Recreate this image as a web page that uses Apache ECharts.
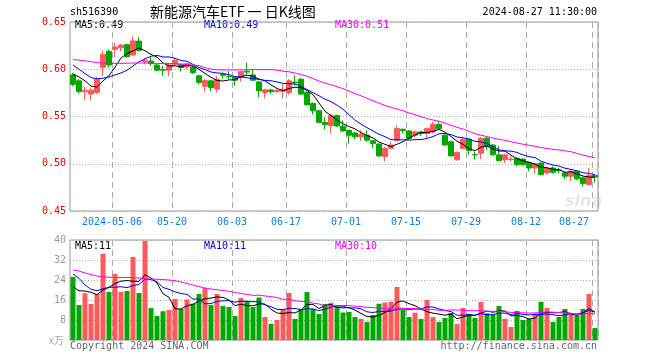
<!DOCTYPE html>
<html><head><meta charset="utf-8">
<script src="https://cdn.jsdelivr.net/npm/echarts@6/dist/echarts.min.js"></script>
<style>html,body{margin:0;padding:0;background:#fff}#c{width:660px;height:360px}</style>
</head><body><div id="c"></div>
<script>
const dates = [
'2024-04-22','2024-04-23','2024-04-24','2024-04-25','2024-04-26','2024-04-29','2024-04-30',
'2024-05-06','2024-05-07','2024-05-08','2024-05-09','2024-05-10',
'2024-05-13','2024-05-14','2024-05-15','2024-05-16','2024-05-17',
'2024-05-20','2024-05-21','2024-05-22','2024-05-23','2024-05-24',
'2024-05-27','2024-05-28','2024-05-29','2024-05-30','2024-05-31',
'2024-06-03','2024-06-04','2024-06-05','2024-06-06','2024-06-07',
'2024-06-11','2024-06-12','2024-06-13','2024-06-14',
'2024-06-17','2024-06-18','2024-06-19','2024-06-20','2024-06-21',
'2024-06-24','2024-06-25','2024-06-26','2024-06-27','2024-06-28',
'2024-07-01','2024-07-02','2024-07-03','2024-07-04','2024-07-05',
'2024-07-08','2024-07-09','2024-07-10','2024-07-11','2024-07-12',
'2024-07-15','2024-07-16','2024-07-17','2024-07-18','2024-07-19',
'2024-07-22','2024-07-23','2024-07-24','2024-07-25','2024-07-26',
'2024-07-29','2024-07-30','2024-07-31','2024-08-01','2024-08-02',
'2024-08-05','2024-08-06','2024-08-07','2024-08-08','2024-08-09',
'2024-08-12','2024-08-13','2024-08-14','2024-08-15','2024-08-16',
'2024-08-19','2024-08-20','2024-08-21','2024-08-22','2024-08-23',
'2024-08-26','2024-08-27'];

const openP = [0.594,0.5877,0.5761,0.5737,0.5754,0.602,0.619,0.621,0.6227,0.626,
0.615,0.6298,0.608,0.6087,0.6045,0.5995,0.599,0.6053,0.6053,0.6024,
0.6024,0.593,0.582,0.5877,0.579,0.5945,0.5925,0.5919,0.5919,0.598,
0.594,0.5866,0.5754,0.578,0.5765,0.5765,0.5754,0.5864,0.5895,0.5754,
0.5638,0.5561,0.5438,0.5403,0.5509,0.5396,0.5354,0.5326,0.5285,0.5302,
0.5243,0.5208,0.5076,0.5163,0.525,0.5365,0.5347,0.5302,0.5337,0.532,
0.5337,0.5417,0.5302,0.5233,0.5042,0.5163,0.526,0.5098,0.511,0.527,
0.5198,0.5094,0.5042,0.5045,0.5059,0.5049,0.5014,0.4955,0.5007,0.4903,
0.4955,0.4935,0.4903,0.4868,0.492,0.4851,0.4781,0.4875];
const closeP = [0.584,0.5765,0.5779,0.5779,0.5895,0.616,0.6045,0.6235,0.6256,0.6135,
0.630,0.620,0.609,0.606,0.599,0.599,0.6045,0.6095,0.6017,0.6059,
0.5965,0.586,0.588,0.5807,0.5895,0.5935,0.592,0.5884,0.5975,0.597,
0.5884,0.5772,0.5782,0.5765,0.5775,0.578,0.5877,0.5856,0.5737,0.5625,
0.5561,0.5438,0.5414,0.5509,0.540,0.5347,0.5302,0.5285,0.5313,0.525,
0.5215,0.5083,0.5163,0.5198,0.5372,0.535,0.5268,0.5337,0.532,0.5372,
0.5417,0.5372,0.5198,0.5083,0.5118,0.5257,0.514,0.5094,0.527,0.518,
0.5094,0.5035,0.5094,0.5049,0.499,0.499,0.4955,0.500,0.4885,0.4955,
0.491,0.4928,0.4868,0.492,0.484,0.4792,0.4875,0.486];
const lowP = [0.582,0.5744,0.5674,0.5674,0.5737,0.593,0.6014,0.613,0.619,0.612,
0.615,0.6193,0.6053,0.6035,0.598,0.593,0.593,0.603,0.5975,0.600,
0.595,0.584,0.5765,0.5765,0.5755,0.590,0.5895,0.5825,0.587,0.594,
0.5877,0.570,0.5695,0.5737,0.5754,0.5695,0.573,0.5825,0.573,0.5615,
0.552,0.5428,0.5361,0.5322,0.539,0.5337,0.5215,0.5257,0.5243,0.5233,
0.5163,0.5076,0.5025,0.5153,0.5243,0.532,0.5257,0.5278,0.5292,0.5268,
0.532,0.5361,0.5188,0.5076,0.5035,0.5153,0.5094,0.5045,0.505,0.5146,
0.5083,0.5024,0.5007,0.5024,0.4972,0.4979,0.492,0.4896,0.4875,0.4885,
0.4896,0.4896,0.484,0.4816,0.4826,0.4757,0.4771,0.480];
const highP = [0.596,0.5895,0.5814,0.5807,0.5919,0.620,0.621,0.628,0.6262,0.627,
0.635,0.634,0.6116,0.613,0.6056,0.6035,0.6056,0.6116,0.6053,0.607,
0.6035,0.594,0.5895,0.5884,0.593,0.5965,0.598,0.5925,0.598,0.607,
0.600,0.5877,0.5793,0.5793,0.579,0.5842,0.5895,0.594,0.5905,0.5765,
0.5649,0.557,0.549,0.5527,0.552,0.5458,0.5361,0.5337,0.5354,0.5354,
0.525,0.5215,0.518,0.5233,0.5406,0.5372,0.5354,0.5354,0.5347,0.5382,
0.5441,0.5451,0.5313,0.5243,0.5129,0.5285,0.5267,0.513,0.528,0.5285,
0.5208,0.5187,0.5104,0.5083,0.5069,0.5059,0.5024,0.5007,0.5014,0.4972,
0.4972,0.4955,0.492,0.4938,0.493,0.4861,0.4955,0.4885];

const volume = [25.2,14,18.7,14.4,18.4,34.5,19.2,26.4,19.2,19.6,
33.2,18.8,39.6,12.8,9.6,11.5,12,16.4,12.4,16.2,
14.5,18.4,20.8,14,18.4,13.6,13.2,9.6,16.8,15.6,
13.2,17,9.2,6.5,8,12.4,18.8,8.4,12.4,19.2,
12.4,10.4,14.4,14.9,13.4,11,11.2,9.2,8.4,7.2,
10,14.5,15,15.3,21.2,12.1,9.2,10.9,8.4,16,
9.2,7.2,8.8,10.8,6.4,12.8,10.5,8.8,15.2,10.7,
10.2,13.6,8.5,5.2,11.6,8,8.5,10.6,15.2,12.8,
7.2,9.2,12.4,10.4,9.6,12.4,18.4,4.8];

// leading moving-average values (window not yet full)
const ma5Head = [0.5947,0.5919,0.5877,0.5821];
const ma10Head = [0.6045,0.600,0.5954,0.5912,0.5898,0.5905,0.5919,0.594,0.5961];
const ma30Head = [0.6102,0.6096,0.609,0.608,0.607,0.6066,0.6062,0.6062,0.6062,0.6064,
0.6066,0.6066,0.6066,0.6064,0.6062,0.6061,0.606,0.6058,0.6055,0.605,
0.6045,0.6038,0.6017,0.600,0.5995,0.5993,0.5993,0.5993,0.5993];
const volMa5Head = [21.3,19.7,19.6,19.1];
const volMa10Head = [26.4,24.7,22,20.3,19.7,20.5,21.1,21.1,21.3];
const volMa30Head = [28,27.6,26.8,26.2,25.6,25.3,25.1,25,25,25,
25,24.8,24.5,24.4,24.3,24.2,24,23.7,23.2,22.6,
22,21.4,20.8,20.4,20.1,19.8,19.5,19.0,18.6];

const tickDates = ['2024-05-06','2024-05-20','2024-06-03','2024-06-17','2024-07-01','2024-07-15','2024-07-29','2024-08-12','2024-08-27'];
const priceTicks = {min:0.45, max:0.65, step:0.05};
const volTicks = {min:0, max:40, step:8};

const titleText = '新能源汽车ETF 一 日K线图';
const codeText = 'sh516390';
const timeText = '2024-08-27 11:30:00';
const priceLegend = ['MA5:0.49','MA10:0.49','MA30:0.51'];
const volLegend = ['MA5:11','MA10:11','MA30:10'];

const UP = '#ff5a5a', DOWN = '#00a800';
const MONO = '"DejaVu Sans Mono", "Liberation Mono", monospace';

function movingAvg(src, n, head) {
  return src.map((v, i) => {
    if (i < n - 1) return head[i];
    let s = 0;
    for (let k = i - n + 1; k <= i; k++) s += src[k];
    return s / n;
  });
}

const kData = dates.map((d, i) => [openP[i], closeP[i], lowP[i], highP[i]]);
const volData = volume.map((v, i) => ({value: v, itemStyle: {color: closeP[i] > openP[i] ? UP : DOWN}}));

const isTick = (idx, val) => tickDates.indexOf(val) >= 0;
const splitX = {show: true, interval: isTick, lineStyle: {color: '#aaa', type: [6, 4], width: 1}};
const splitY = {show: true, lineStyle: {color: '#aaa', type: [1, 2], width: 1}};

const lineS = (name, data, color, xi, yi) => ({
  name, type: 'line', data, xAxisIndex: xi, yAxisIndex: yi, symbol: 'none',
  lineStyle: {color, width: 1}, itemStyle: {color}, silent: true, z: 5
});

const chart = echarts.init(document.getElementById('c'), null, {renderer: 'canvas'});
chart.setOption({
  animation: false,
  backgroundColor: '#fff',
  grid: [
    {left: 70, top: 22, width: 528, height: 189, show: true, borderColor: '#999', borderWidth: 1, backgroundColor: 'transparent'},
    {left: 70, top: 240, width: 528, height: 100, show: true, borderColor: '#999', borderWidth: 1, backgroundColor: 'transparent'}
  ],
  xAxis: [
    {type: 'category', gridIndex: 0, data: dates, boundaryGap: true,
      axisLine: {show: false}, axisTick: {show: false}, splitLine: splitX,
      axisLabel: {interval: isTick, color: '#0a80d8', fontFamily: MONO, fontSize: 10, margin: 6,
        padding: [0, 6, 0, 0], alignMaxLabel: 'right',
        formatter: v => v === tickDates[0] ? v : v.slice(5)}},
    {type: 'category', gridIndex: 1, data: dates, boundaryGap: true,
      axisLine: {show: false}, axisTick: {show: false}, splitLine: splitX,
      axisLabel: {show: false}}
  ],
  yAxis: [
    {type: 'value', gridIndex: 0, min: priceTicks.min, max: priceTicks.max, interval: priceTicks.step,
      axisLine: {show: false}, axisTick: {show: false}, splitLine: splitY,
      axisLabel: {color: '#e00000', fontFamily: MONO, fontSize: 10, margin: 4,
        formatter: v => v.toFixed(2)}},
    {type: 'value', gridIndex: 1, min: volTicks.min, max: volTicks.max, interval: volTicks.step,
      axisLine: {show: false}, axisTick: {show: false}, splitLine: splitY,
      axisLabel: {color: '#999', fontFamily: MONO, fontSize: 10, margin: 4,
        formatter: v => v === 0 ? '' : String(v)}}
  ],
  series: [
    {type: 'candlestick', data: kData, xAxisIndex: 0, yAxisIndex: 0, barWidth: 5,
      itemStyle: {color: UP, color0: DOWN, borderColor: UP, borderColor0: DOWN, borderWidth: 1}, z: 3},
    lineS('MA5', movingAvg(closeP, 5, ma5Head), '#000000', 0, 0),
    lineS('MA10', movingAvg(closeP, 10, ma10Head), '#0000ff', 0, 0),
    lineS('MA30', movingAvg(closeP, 30, ma30Head), '#ff00ff', 0, 0),
    {type: 'bar', data: volData, xAxisIndex: 1, yAxisIndex: 1, barWidth: 5, z: 3},
    lineS('VMA5', movingAvg(volume, 5, volMa5Head), '#000000', 1, 1),
    lineS('VMA10', movingAvg(volume, 10, volMa10Head), '#0000ff', 1, 1),
    lineS('VMA30', movingAvg(volume, 30, volMa30Head), '#ff00ff', 1, 1)
  ],
  graphic: [
    {type: 'text', left: 70, top: 7, style: {text: codeText, font: '10px ' + MONO, fill: '#000'}},
    {type: 'text', left: 150, top: 5, style: {text: titleText, font: '14px "Noto Sans CJK SC", sans-serif', fill: '#000'}},
    {type: 'text', right: 63, top: 7, style: {text: timeText, font: '10px ' + MONO, fill: '#000'}},
    {type: 'text', left: 75, top: 20, style: {text: priceLegend[0], font: '10px ' + MONO, fill: '#000'}},
    {type: 'text', left: 204, top: 20, style: {text: priceLegend[1], font: '10px ' + MONO, fill: '#0000e0'}},
    {type: 'text', left: 335, top: 20, style: {text: priceLegend[2], font: '10px ' + MONO, fill: '#ee00ee'}},
    {type: 'text', left: 75, top: 241, style: {text: volLegend[0], font: '10px ' + MONO, fill: '#000'}},
    {type: 'text', left: 204, top: 241, style: {text: volLegend[1], font: '10px ' + MONO, fill: '#0000e0'}},
    {type: 'text', left: 335, top: 241, style: {text: volLegend[2], font: '10px ' + MONO, fill: '#ee00ee'}},
    {type: 'text', left: 49, top: 335, style: {text: 'x万', font: '10px "Noto Sans CJK SC", sans-serif', fill: '#aaa'}},
    {type: 'text', left: 70, top: 341, style: {text: 'Copyright 2024 SINA.COM', font: '10px ' + MONO, fill: '#666'}},
    {type: 'text', right: 63, top: 341, style: {text: 'http://finance.sina.com.cn', font: '10px ' + MONO, fill: '#666'}},
    {type: 'text', left: 565, top: 194, z: -1, style: {text: 'sina', font: 'italic bold 16px "DejaVu Sans", sans-serif', fill: '#e6e6e6'}}
  ]
});
</script></body></html>
